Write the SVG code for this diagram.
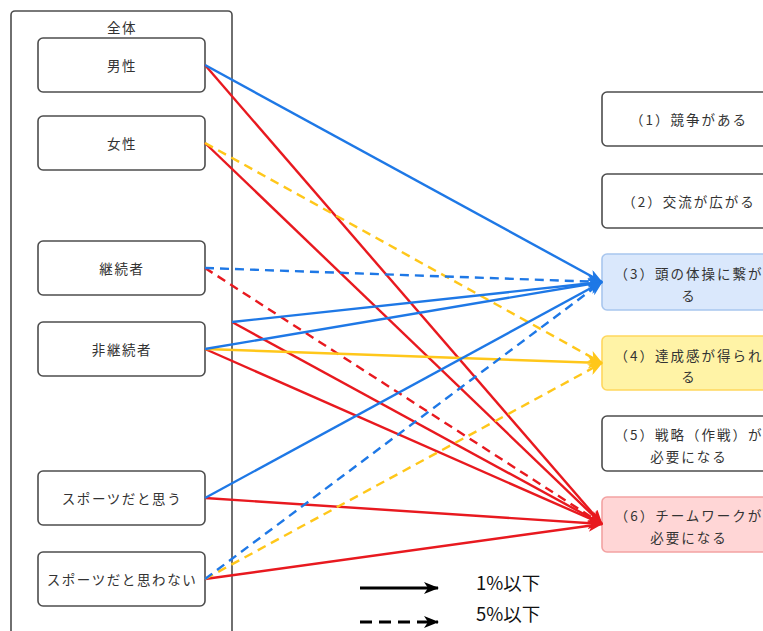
<svg xmlns="http://www.w3.org/2000/svg" width="763" height="631" viewBox="0 0 763 631">
<style>
.box{fill:#fff;stroke:#4d4d4d;stroke-width:1.6}
.lbl{font-family:"Noto Sans CJK JP","Noto Sans",sans-serif;font-size:13.5px;fill:#333;letter-spacing:1.6px;text-anchor:middle;dominant-baseline:central}
.rl{letter-spacing:2px}
.leg{font-family:"Noto Sans CJK JP","Noto Sans",sans-serif;font-size:18.5px;fill:#111;dominant-baseline:central}
.c{fill:none;stroke-width:2.4}
.b{stroke:#1e78e6}
.r{stroke:#e8191f}
.y{stroke:#ffc71a}
.d{stroke-dasharray:9 6}
</style>
<defs>
<marker id="ab" markerWidth="15" markerHeight="12" refX="14" refY="6" orient="auto" markerUnits="userSpaceOnUse"><path d="M0,0 L15,6 L0,12 L4,6 z" fill="#1e78e6"/></marker>
<marker id="ar" markerWidth="15" markerHeight="12" refX="14" refY="6" orient="auto" markerUnits="userSpaceOnUse"><path d="M0,0 L15,6 L0,12 L4,6 z" fill="#e8191f"/></marker>
<marker id="ay" markerWidth="15" markerHeight="12" refX="14" refY="6" orient="auto" markerUnits="userSpaceOnUse"><path d="M0,0 L15,6 L0,12 L4,6 z" fill="#ffc71a"/></marker>
<marker id="ak" markerWidth="15" markerHeight="12" refX="14" refY="6" orient="auto" markerUnits="userSpaceOnUse"><path d="M0,0 L15,6 L0,12 L4,6 z" fill="#000"/></marker>
</defs>

<g id="zentai">
<rect class="box" x="11" y="11" width="221" height="630" rx="4"/>
<text class="lbl" x="122" y="27">全体</text>
</g>

<g id="male"><rect class="box" x="38" y="38" width="167" height="54" rx="5"/><text class="lbl" x="122" y="65">男性</text></g>
<g id="female"><rect class="box" x="38" y="116" width="167" height="54" rx="5"/><text class="lbl" x="122" y="143">女性</text></g>
<g id="keizoku"><rect class="box" x="38" y="241" width="167" height="54" rx="5"/><text class="lbl" x="122" y="268">継続者</text></g>
<g id="hikeizoku"><rect class="box" x="38" y="322" width="167" height="54" rx="5"/><text class="lbl" x="122" y="349">非継続者</text></g>
<g id="sports-yes"><rect class="box" x="38" y="471" width="167" height="54" rx="5"/><text class="lbl" x="122" y="498">スポーツだと思う</text></g>
<g id="sports-no"><rect class="box" x="38" y="552" width="167" height="54" rx="5"/><text class="lbl" x="122" y="579">スポーツだと思わない</text></g>

<g id="r1"><rect class="box" x="602" y="92" width="172" height="54" rx="5"/><text class="lbl rl" x="689" y="119">（1）競争がある</text></g>
<g id="r2"><rect class="box" x="602" y="174" width="172" height="54" rx="5"/><text class="lbl rl" x="689" y="201">（2）交流が広がる</text></g>
<g id="r3"><rect x="602" y="254" width="172" height="56" rx="5" fill="#dae8fc" stroke="#a8c6ee" stroke-width="1.6"/><text class="lbl rl" x="689" y="273">（3）頭の体操に繋が</text><text class="lbl rl" x="689" y="295">る</text></g>
<g id="r4"><rect x="602" y="336" width="172" height="54" rx="5" fill="#fff3a6" stroke="#ffd75e" stroke-width="1.6"/><text class="lbl rl" x="689" y="355">（4）達成感が得られ</text><text class="lbl rl" x="689" y="376">る</text></g>
<g id="r5"><rect class="box" x="602" y="416" width="172" height="55" rx="5"/><text class="lbl rl" x="689" y="434">（5）戦略（作戦）が</text><text class="lbl rl" x="689" y="456">必要になる</text></g>
<g id="r6"><rect x="602" y="497" width="172" height="55" rx="5" fill="#ffd6d6" stroke="#f3a2a2" stroke-width="1.6"/><text class="lbl rl" x="689" y="515">（6）チームワークが</text><text class="lbl rl" x="689" y="537">必要になる</text></g>

<g id="connectors">
<line class="c r" x1="205" y1="65" x2="602" y2="524" marker-end="url(#ar)"/>
<line class="c r" x1="205" y1="143" x2="602" y2="524" marker-end="url(#ar)"/>
<line class="c r d" x1="205" y1="268" x2="602" y2="524" marker-end="url(#ar)"/>
<line class="c r" x1="232" y1="322" x2="602" y2="524" marker-end="url(#ar)"/>
<line class="c r" x1="205" y1="349" x2="602" y2="524" marker-end="url(#ar)"/>
<line class="c r" x1="205" y1="498" x2="602" y2="524" marker-end="url(#ar)"/>
<line class="c r" x1="205" y1="579" x2="602" y2="524" marker-end="url(#ar)"/>
<line class="c y d" x1="205" y1="143" x2="602" y2="363" marker-end="url(#ay)"/>
<line class="c y" x1="205" y1="349" x2="602" y2="363" marker-end="url(#ay)"/>
<line class="c y d" x1="205" y1="579" x2="602" y2="363" marker-end="url(#ay)"/>
<line class="c b" x1="205" y1="65" x2="602" y2="282" marker-end="url(#ab)"/>
<line class="c b d" x1="205" y1="268" x2="602" y2="282" marker-end="url(#ab)"/>
<line class="c b" x1="232" y1="322" x2="602" y2="282" marker-end="url(#ab)"/>
<line class="c b" x1="205" y1="349" x2="602" y2="282" marker-end="url(#ab)"/>
<line class="c b" x1="205" y1="498" x2="602" y2="282" marker-end="url(#ab)"/>
<line class="c b d" x1="205" y1="579" x2="602" y2="282" marker-end="url(#ab)"/>
</g>

<g id="legend">
<line x1="360" y1="588" x2="438" y2="588" stroke="#000" stroke-width="3.2" marker-end="url(#ak)"/>
<line x1="360" y1="622" x2="438" y2="622" stroke="#000" stroke-width="3.2" stroke-dasharray="12 7" marker-end="url(#ak)"/>
<text class="leg" x="476" y="582">1%以下</text>
<text class="leg" x="476" y="613">5%以下</text>
</g>
</svg>
